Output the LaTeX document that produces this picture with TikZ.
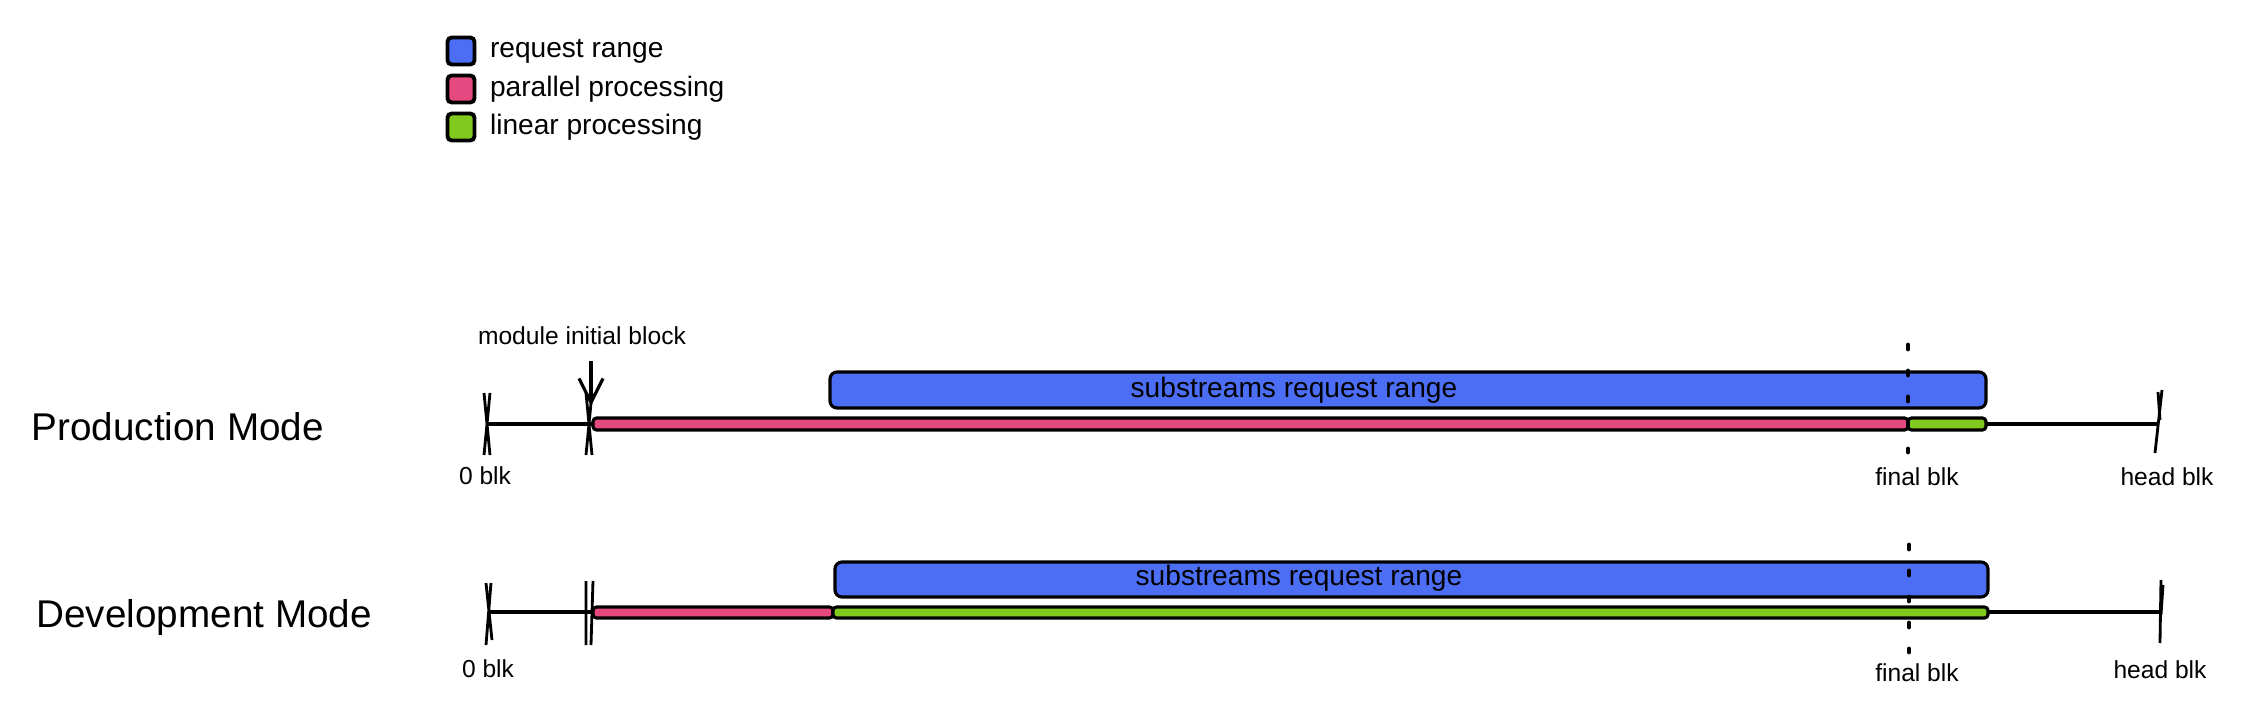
\documentclass[tikz,border=0pt]{standalone}
\usepackage{fontspec}
\setmainfont{Liberation Sans}
\usetikzlibrary{positioning, arrows.meta}
\definecolor{rangeblue}{HTML}{4C6EF5}
\definecolor{parpink}{HTML}{E64980}
\definecolor{lingreen}{HTML}{82C91E}

\begin{document}
\begin{tikzpicture}[x=0.1mm, y=-0.1mm, line width=0.9pt,
	mode/.style={font=\fontsize{11}{13}\selectfont, anchor=west, inner sep=0pt},
	lbl/.style={font=\fontsize{7}{8}\selectfont, inner sep=1pt},
	rngtext/.style={font=\fontsize{8}{10}\selectfont, inner sep=0pt},
	key/.style={draw, rounded corners=1.2pt, minimum size=2.7mm, inner sep=0pt, line width=1.1pt},
	rng/.style={draw, fill=rangeblue, rounded corners=2pt},
	bar/.style={draw, rounded corners=1pt},
	blkdots/.style={line width=1.4pt, line cap=round, dash pattern=on 0.4mm off 2.2mm},
	tick/.style={line width=0.8pt}]
	\useasboundingbox (0,0) rectangle (2248,721);
	% legend
	\foreach \c/\t [count=\i] in {rangeblue/request range, parpink/parallel processing, lingreen/linear processing} {
		\node[key, fill=\c] (key\i) at (461,13+38*\i) {};
		\node[rngtext, right=1.2mm of key\i] (keytext\i) {\t};
	}
	% production mode
	\node[mode] (prodmode) at (30,427) {Production Mode};
	\coordinate (p0) at (487,424);
	\coordinate (pinit) at (589,424);
	\coordinate (phead) at (2158,424);
	\coordinate (parrow) at (591,406);
	\draw (p0) -- (phead);
	\draw[bar, fill=parpink] (593,418) rectangle (1908,430);
	\draw[bar, fill=lingreen] (1908,418) rectangle (1986,430);
	\draw[rng] (830,372) rectangle (1986,408);
	\node[rngtext] (prodrange) at (1294,390) {substreams request range};
	\foreach \x in {487,589}
		\draw[tick] (\x-3,393) -- (\x+3,455) (\x+3,393) -- (\x-3,455);
	\draw[tick] (2162,390) -- (2155,453) (2158,392) -- (2160,420);
	\draw[blkdots] (1908,345) -- (1908,452);
	\node[lbl] (initlbl) at (582,336) {module initial block};
	\draw[-{Straight Barb[length=2.4mm,width=2.4mm]}, shorten <=1.1mm] (initlbl.south -| parrow) -- (parrow);
	\node[lbl] (p0lbl) at (485,476) {0 blk};
	\node[lbl] (pfinallbl) at (1917,477) {final blk};
	\node[lbl] (pheadlbl) at (2167,477) {head blk};
	% development mode
	\node[mode] (devmode) at (35,618) {Development Mode};
	\coordinate (d0) at (488,612);
	\coordinate (dinit) at (590,612);
	\coordinate (dhead) at (2160,612);
	\draw (d0) -- (dhead);
	\draw[bar, fill=parpink] (593,607) rectangle (833,618);
	\draw[bar, fill=lingreen] (833,607) rectangle (1988,618);
	\draw[rng] (835,562) rectangle (1988,597);
	\node[rngtext] (devrange) at (1299,578) {substreams request range};
	\draw[tick] (486,583) -- (492,640) (491,583) -- (486,645);
	\draw[tick] (586,581) -- (586,645) (593,581) -- (591,645);
	\draw[tick] (2161,580) -- (2160,643) (2163,585) -- (2161,615);
	\draw[blkdots] (1909,545) -- (1909,652);
	\node[lbl] (d0lbl) at (488,669) {0 blk};
	\node[lbl] (dfinallbl) at (1917,673) {final blk};
	\node[lbl] (dheadlbl) at (2160,670) {head blk};
\end{tikzpicture}
\end{document}
